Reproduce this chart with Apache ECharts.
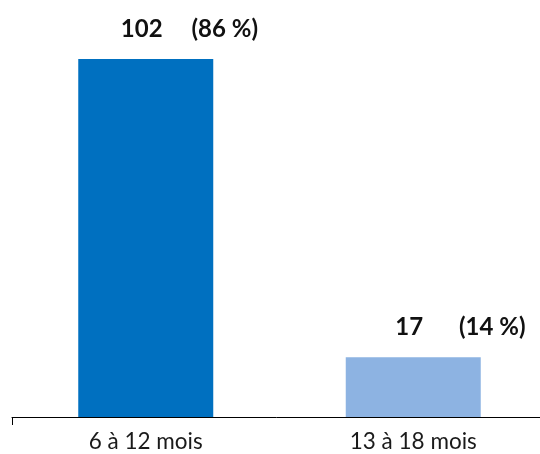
<!DOCTYPE html>
<html>
<head>
<meta charset="utf-8">
<script src="https://cdn.jsdelivr.net/npm/echarts@6/dist/echarts.min.js"></script>
<style>
  html, body { margin: 0; padding: 0; background: #fff; }
  #chart { width: 540px; height: 454px; }
</style>
</head>
<body>
<div id="chart"></div>
<script>
// Répartition par tranche d'âge
const categories = ['6 à 12 mois', '13 à 18 mois'];
const counts = [102, 17];
const shares = ['(86 %)', '(14 %)'];
const barColors = ['#0070C0', '#8DB3E2'];

const chart = echarts.init(document.getElementById('chart'));

chart.setOption({
  animation: false,
  textStyle: { fontFamily: 'Lato' },
  grid: { left: 12, width: 535, top: 31, bottom: 37, containLabel: false, outerBoundsMode: 'none' },
  xAxis: {
    type: 'category',
    data: categories,
    axisLine: { lineStyle: { color: '#000', width: 1 } },
    axisTick: { show: true, length: 8, interval: (i) => i === 0, lineStyle: { color: '#000' } },
    axisLabel: { color: '#1a1a1a', fontSize: 22.5, margin: 13, fontFamily: 'Lato' }
  },
  yAxis: {
    type: 'value',
    min: 0,
    max: 110,
    show: false,
    splitLine: { show: false }
  },
  series: [{
    type: 'bar',
    barWidth: 135,
    data: counts.map((v, i) => ({ value: v, itemStyle: { color: barColors[i] } })),
    label: {
      show: true,
      position: 'top',
      distance: 18,
      offset: [43.5, 0],
      formatter: (p) => '{a|' + p.value + '}{s|}{b|' + shares[p.dataIndex] + '}',
      rich: {
        a: { width: 50, align: 'center', fontSize: 24, fontWeight: 'bold', color: '#111', fontFamily: 'Lato' },
        s: { width: 21 },
        b: { width: 74, align: 'left', fontSize: 24, fontWeight: 'bold', color: '#111', fontFamily: 'Lato' }
      }
    }
  }]
});
</script>
</body>
</html>
